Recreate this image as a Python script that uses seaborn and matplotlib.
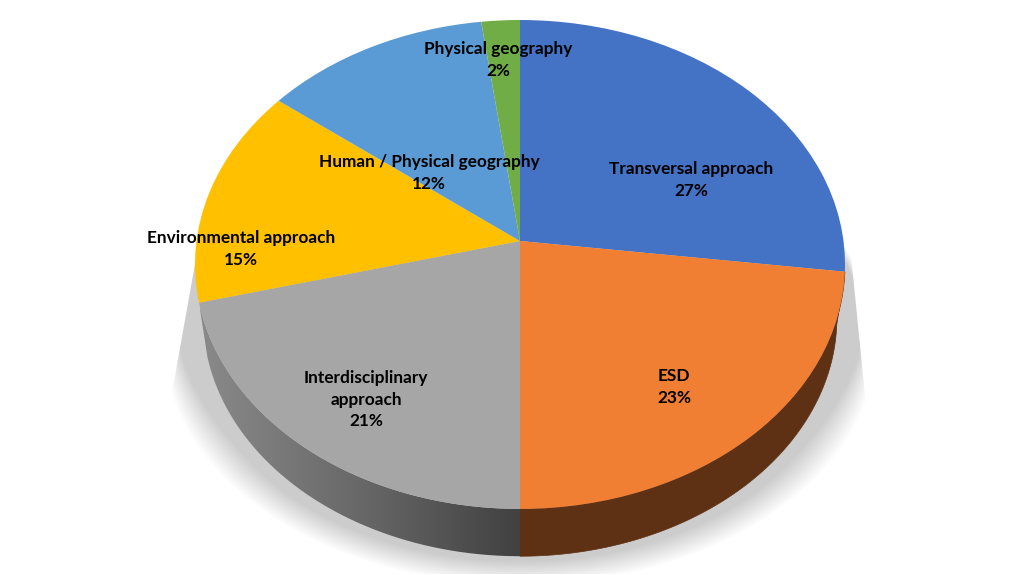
import numpy as np
import matplotlib
matplotlib.use("Agg")
import matplotlib.pyplot as plt
from matplotlib.colors import LinearSegmentedColormap
from matplotlib.patches import PathPatch
from matplotlib.path import Path
from matplotlib.transforms import Transform
import seaborn as sns

categories = ["Transversal approach", "ESD", "Interdisciplinary\napproach",
              "Environmental approach", "Human / Physical geography", "Physical geography"]
values = [27.0, 23.0, 21.0, 14.5, 12.4, 2.1]
percent_labels = ["27%", "23%", "21%", "15%", "12%", "2%"]
top_colors = ["#4472C4", "#F07F33", "#A6A6A6", "#FFC000", "#5B9BD5", "#70AD47"]

# layout (pixels of the 1019x575 canvas)
W, H = 1019, 575
CX, CY, RX, RY, PERSP = 520, 241, 323.5, 242.2, 0.096
BASE_CY, BASE_SCALE = 295, 0.975
label_xy = [(691, 180), (674, 387), (366, 399.5), (241, 249), (429, 173), (498, 60)]


class Perspective(Transform):
    input_dims = output_dims = 2
    is_separable = False
    has_inverse = False

    def __init__(self, cy=CY, scale=1.0):
        super().__init__()
        self.cy, self.scale = cy, scale

    def transform_non_affine(self, xy):
        xy = np.asarray(xy, float)
        w = 1 + PERSP * xy[:, 1]
        return np.column_stack([CX + self.scale * RX * xy[:, 0] / w,
                                self.cy - self.scale * RY * xy[:, 1] / w])

    def transform_path_non_affine(self, path):
        return Path(self.transform_non_affine(path.vertices), path.codes)


sns.set_theme(style="white")
plt.rcParams["font.family"] = ["Lato", "DejaVu Sans"]
fig = plt.figure(figsize=(W / 100, H / 100), dpi=100, facecolor="white")
ax = fig.add_axes([0, 0, 1, 1])

palette = sns.color_palette(top_colors)
wedges, _ = ax.pie(values, colors=palette, startangle=90, counterclock=False, radius=1,
                   wedgeprops=dict(linewidth=0, zorder=5))
ax.set_aspect("auto")
for wedge in wedges:
    wedge.set_transform(Perspective() + ax.transData)

# soft shadow under the disc: crisp near the top, blurred lower down
yy, xx = np.mgrid[0:H, 0:W] + 0.5
r = np.hypot((xx - 520) / 356, (yy - 345) / 240)
s = np.clip((yy - 290) / 170, 0, 1)
band = 0.025 + 0.075 * s * s * (3 - 2 * s)
fade = np.clip((1 - r) / band, 0, 1)
left = 172 + (yy - 390) * (197 - 172) / (250 - 390)
right = 866 + (yy - 400) * (845 - 866) / (190 - 400)
fade *= np.clip(xx - left, 0, 1) * np.clip(right - xx, 0, 1)
fade *= np.clip((yy - 190) / 70, 0, 1) * (yy < 574)
shadow = np.zeros((H, W, 4))
shadow[..., :3] = 0.80
shadow[..., 3] = fade
ax.imshow(shadow, extent=(0, W, H, 0), zorder=1, interpolation="bilinear", aspect="auto")

# side wall between the rim and the lower disc
top_t = Perspective()
base_t = Perspective(BASE_CY, BASE_SCALE)
edges = np.cumsum([0.0] + values) / sum(values) * 2 * np.pi


def wall(i):
    th = np.linspace(edges[i], edges[i + 1], 200)
    unit = np.column_stack([np.sin(th), np.cos(th)])
    return np.vstack([top_t.transform_non_affine(unit),
                      base_t.transform_non_affine(unit)[::-1]])


ax.fill(*wall(1).T, color="#5F3114", lw=0.5, zorder=3)
cmap = LinearSegmentedColormap.from_list("wall", ["#8A8A8A", "#686868", "#414141"])
img = ax.imshow(np.linspace(0, 1, 320)[None, :], extent=(200, 520, H, 0), cmap=cmap,
                zorder=3, aspect="auto")
img.set_clip_path(PathPatch(Path(wall(2)), transform=ax.transData))

for name, pct, (x, y) in zip(categories, percent_labels, label_xy):
    ax.text(x, y, f"{name}\n{pct}", ha="center", va="center", color="black", fontsize=12.45,
            fontweight="bold", linespacing=1.42, zorder=6)

ax.set_xlim(0, W)
ax.set_ylim(H, 0)
ax.axis("off")
fig.savefig("out.png", dpi=100, facecolor="white")
